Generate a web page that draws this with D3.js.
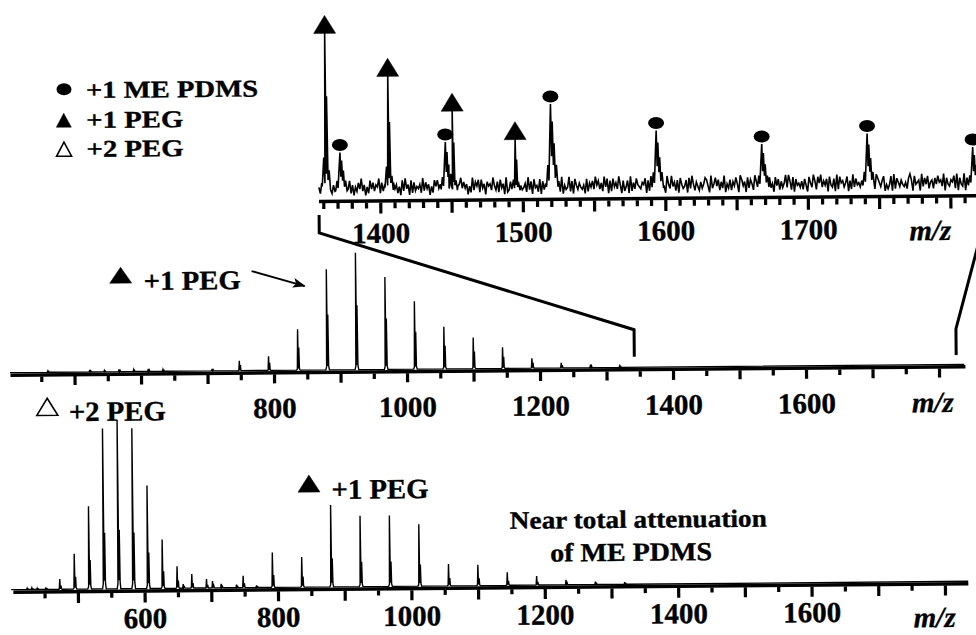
<!DOCTYPE html>
<html lang="en">
<head>
    <title>MALDI - PEG / ME PDMS</title>
    <meta charset="utf-8"/>
    <script src="https://d3js.org/d3.v7.min.js"></script>
    <style>
        body { margin: 0; background: #fff; }
        svg text { font-family: "Liberation Serif", "Times New Roman", serif; font-weight: bold; fill: #000;
                   stroke: #000; stroke-width: 0.35px; }
    </style>
</head>
<body>
<svg id="espectro" width="976" height="635"></svg>
<script>
    // ---- inset (zoom of ~1357-1818), tallest peak = 100
    const insetPEG = [[1362, 100], [1406, 73], [1451, 51], [1495, 33]];
    const insetPDMS = [[1372, 25], [1446, 31], [1520, 54], [1594, 37], [1668, 28], [1742, 34], [1816, 25]];
    // baseline noise of the inset, one digit per point
    const insetNoise = [
        "5273618452", "6314729536", "4826153749", "3615284736", "5927364185",
        "3746251839", "4618273546", "2937461528", "5846372619", "3728156947",
        "4615293758", "2846175639", "5372846192", "3718264953", "4629371845",
        "2817365948", "6384729153", "4927185364", "3518264739", "5736294817",
        "2846395172", "4719263854", "3658172946", "5827364195", "3946271853",
        "4718395264", "2635874193", "5847263915", "3726485197", "4618375296",
        "2736495183", "5184726359", "3962817453", "6274185396", "2859364718",
        "4371928563", "5816293745", "3648517294", "2975368142", "4819275364",
        "3527961845", "6193748256", "2748563917", "4365829174", "3917284653"
    ].join("").split("").map(Number);
    const insetLabels = [1400, 1500, 1600, 1700];

    // ---- middle spectrum, tallest peak = 100
    const midPEG1 = [[748, 8.5], [792, 12], [836, 35], [880, 86], [924, 100], [968, 79], [1012, 58],
        [1056, 36], [1100, 26.5], [1144, 18], [1188, 8.5], [1232, 4.3], [1276, 2.6], [1320, 1.3]];
    const midPEG2 = [[460, 1.2], [523, 1.8], [545, 1.2], [567, 2], [589, 1.6], [611, 2.2], [633, 1.5], [707, 1.8]];
    const midLabels = [800, 1000, 1200, 1400, 1600];

    // ---- bottom spectrum, tallest peak = 100
    const botPEG2 = [[473, 6], [495, 21], [517, 49], [539, 95], [561, 100], [583, 95], [605, 61],
        [627, 29], [649, 13], [671, 8.3], [693, 5.3], [715, 2.4]];
    const botPEG1 = [[748, 7.1], [792, 20.7], [836, 17.8], [880, 48.6], [924, 42], [968, 42], [1012, 36.7],
        [1056, 13], [1100, 12.4], [1144, 7.7], [1188, 5.3], [1232, 3], [1276, 1.8], [1320, 1.2]];
    const botOther = [[424, 0.8], [431, 1], [439, 0.8], [452, 1.2], [658, 2.4], [702, 4.1], [738, 1.8], [768, 1.2]];
    const botLabels = [600, 800, 1000, 1200, 1400, 1600];

    // forma de cada pico: [desplazamiento m/z, fraccion de la altura]
    const sharpMid = [[-2, 0], [-0.8, 0.03], [0, 1], [0.7, 0.04], [1.6, 0.55], [2.3, 0.04], [3.5, 0]];
    const sharpBot = [[-2, 0], [-0.8, 0.03], [0, 1], [0.7, 0.05], [1.8, 0.35], [2.5, 0.04], [3.5, 0]];
    const pegInset = [[-2.6, 0.04], [-1.4, 0.22], [-0.7, 0.06], [0, 1], [0.45, 0.12], [0.9, 0.6], [1.5, 0.08], [2.3, 0.14], [3.2, 0.02]];
    const pdmsInset = [[-3.2, 0.05], [-2.2, 0.3], [-1.5, 0.12], [-0.8, 0.55], [0, 1], [0.5, 0.4], [1.1, 0.8],
        [1.7, 0.3], [2.3, 0.55], [3.0, 0.15], [3.8, 0.3], [4.8, 0.05]];

    const svg = d3.select("#espectro");
    // the scanned figure is slightly tilted
    const root = svg.append("g").attr("transform", "rotate(-0.5,488,317)");

    // escalas
    const xInset = d3.scaleLinear().domain([1357, 1818]).range([320, 977]);
    const yInset = d3.scaleLinear().domain([0, 100]).range([198, 37]);
    const xMid = d3.scaleLinear().domain([403, 1838]).range([9.5, 963.8]);
    const yMid = d3.scaleLinear().domain([0, 100]).range([368.5, 251.5]);
    const xBot = d3.scaleLinear().domain([400, 1835]).range([8.8, 965.9]);
    const yBot = d3.scaleLinear().domain([0, 100]).range([585.5, 416.8]);

    function profile(peaks, shape, base) {
        const pts = [];
        peaks.forEach(([m, h]) => shape.forEach(([dm, r]) => pts.push([m + dm, base + h * r])));
        return pts;
    }

    function drawSpectrum(pts, x, y, width) {
        pts.sort((a, b) => a[0] - b[0]);
        root.append("path")
            .datum(pts)
            .attr("fill", "none")
            .attr("stroke", "#000")
            .attr("stroke-width", width)
            .attr("stroke-linejoin", "miter")
            .attr("d", d3.line().x(d => x(d[0])).y(d => y(d[1])));
    }

    function drawAxis(x, y0, x1, x2, ticks, isMajor, labels, shortLen, longLen, labelY) {
        root.append("line")
            .attr("x1", x1).attr("x2", x2)
            .attr("y1", y0).attr("y2", y0)
            .attr("stroke", "#000").attr("stroke-width", 3.5);

        const axis = d3.axisBottom(x)
            .tickValues(ticks)
            .tickSize(shortLen)
            .tickSizeOuter(0)
            .tickFormat(d => labels.includes(d) ? d : "");

        const g = root.append("g")
            .attr("transform", `translate(0,${y0 + 1.5})`)
            .call(axis);
        g.select(".domain").remove();
        g.selectAll(".tick line")
            .attr("stroke-width", 3.2)
            .attr("y2", d => isMajor(d) ? longLen : shortLen);
        g.selectAll(".tick text")
            .attr("y", labelY - y0 - 1.5)
            .attr("dy", null)
            .style("font-size", "29px");
    }

    function mz(xp, yp) {
        root.append("text")
            .attr("x", xp).attr("y", yp)
            .attr("text-anchor", "middle")
            .style("font-size", "29px")
            .style("font-style", "italic")
            .text("m/z");
    }

    function tri(cx, top, w, h, filled) {
        root.append("polygon")
            .attr("points", `${cx - w / 2},${top + h} ${cx + w / 2},${top + h} ${cx},${top}`)
            .attr("fill", filled ? "#000" : "#fff")
            .attr("stroke", "#000")
            .attr("stroke-width", filled ? 0.5 : 1.6);
    }

    function label(txt, xp, yp, size, len) {
        root.append("text")
            .attr("x", xp).attr("y", yp)
            .attr("textLength", len)
            .attr("lengthAdjust", "spacingAndGlyphs")
            .style("font-size", size + "px")
            .text(txt);
    }

    // ---------------- inset
    const noiseStep = (1818 - 1357) / (insetNoise.length - 1);
    const insetPts = [];
    insetNoise.forEach((d, i) => {
        const m = 1357 + i * noiseStep;
        const nearPeg = insetPEG.some(p => m > p[0] - 2.7 && m < p[0] + 3.3);
        const nearPdms = insetPDMS.some(p => m > p[0] - 3.3 && m < p[0] + 5);
        if (!nearPeg && !nearPdms) insetPts.push([m, 1 + d * 1.3]);
    });
    profile(insetPEG, pegInset, 4).forEach(p => insetPts.push(p));
    profile(insetPDMS, pdmsInset, 4).forEach(p => insetPts.push(p));
    drawSpectrum(insetPts, xInset, yInset, 1.6);

    drawAxis(xInset, 200, 320, 990, d3.range(1360, 1811, 10), d => d % 50 === 0,
        insetLabels, 6, 11, 242);
    mz(931, 244);

    // marcadores del inset
    insetPEG.forEach(([m, h]) => tri(xInset(m), yInset(h) - 23, 22, 18, true));
    root.selectAll("ellipse.pdms")
        .data(insetPDMS).enter()
        .append("ellipse")
        .attr("class", "pdms")
        .attr("cx", d => xInset(d[0]))
        .attr("cy", d => yInset(d[1]) - 14)
        .attr("rx", 8).attr("ry", 6)
        .attr("fill", "#000");

    // leyenda
    root.append("ellipse").attr("cx", 66).attr("cy", 85.5).attr("rx", 7.5).attr("ry", 6).attr("fill", "#000");
    label("+1 ME PDMS", 88, 94.5, 24, 172);
    tri(65.5, 109.5, 15, 14, true);
    label("+1 PEG", 88, 124.5, 24, 97);
    tri(65.5, 138.5, 15, 14, false);
    label("+2 PEG", 88, 153.5, 24, 97);

    // lineas del zoom
    const bracket = d3.line();
    root.append("path")
        .attr("d", bracket([[xInset(1357), 213.5], [xInset(1357), 231.5], [xMid(1342), 331], [xMid(1342), 358]]))
        .attr("fill", "none").attr("stroke", "#000").attr("stroke-width", 3);
    root.append("path")
        .attr("d", bracket([[xInset(1825), 219], [xMid(1826), 333], [xMid(1826), 359]]))
        .attr("fill", "none").attr("stroke", "#000").attr("stroke-width", 3);

    // ---------------- middle
    const midPts = [[403, 0], [1838, 0]];
    profile(midPEG1, sharpMid, 0).forEach(p => midPts.push(p));
    profile(midPEG2, sharpMid, 0).forEach(p => midPts.push(p));
    drawSpectrum(midPts, xMid, yMid, 1.4);
    drawAxis(xMid, 371, 10, 965, d3.range(450, 1801, 50), d => d % 100 === 0,
        midLabels, 5.5, 9, 416);
    mz(932, 416);

    tri(121, 264, 22, 16, true);
    label("+1 PEG", 144, 287, 27, 97);

    svg.append("defs").append("marker")
        .attr("id", "flecha")
        .attr("viewBox", "0 0 13 10")
        .attr("markerUnits", "userSpaceOnUse")
        .attr("markerWidth", 13).attr("markerHeight", 10)
        .attr("refX", 12).attr("refY", 5)
        .attr("orient", "auto")
        .append("path").attr("d", "M0,0 L13,5 L0,10 L3,5 z").attr("fill", "#000");
    root.append("line")
        .attr("x1", 252).attr("y1", 269)
        .attr("x2", 305).attr("y2", 284.5)
        .attr("stroke", "#000").attr("stroke-width", 1.8)
        .attr("marker-end", "url(#flecha)");

    // ---------------- bottom
    const botPts = [[400, 0], [1835, 0]];
    profile(botPEG2, sharpBot, 0).forEach(p => botPts.push(p));
    profile(botPEG1, sharpBot, 0).forEach(p => botPts.push(p));
    profile(botOther, sharpBot, 0).forEach(p => botPts.push(p));
    drawSpectrum(botPts, xBot, yBot, 1.4);
    drawAxis(xBot, 588, 11, 966, d3.range(450, 1801, 50), d => d % 100 === 0,
        botLabels, 5, 10, 625);
    mz(932, 631);

    tri(46.5, 394.5, 21, 17, false);
    label("+2 PEG", 68, 417.5, 28, 97);
    tri(307.5, 473.5, 22, 17, true);
    label("+1 PEG", 330, 497.5, 28, 97);
    label("Near total attenuation", 508, 529, 25, 257);
    label("of ME PDMS", 548, 562, 26, 162);
</script>
</body>
</html>
